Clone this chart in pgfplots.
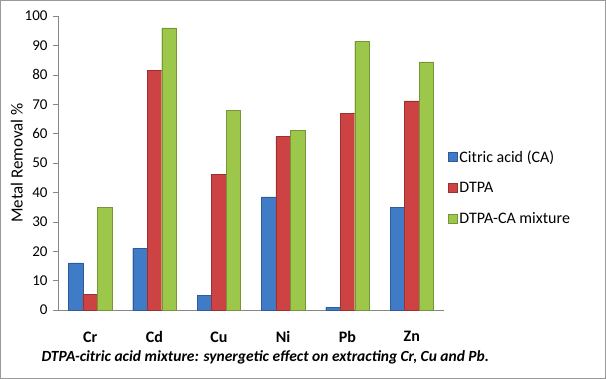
\documentclass[border=0pt]{standalone}
\usepackage{pgfplots}
\pgfplotsset{compat=1.18}
\usepackage{fontspec}
\setmainfont{Carlito}
\definecolor{cablue}{HTML}{3F7BC6}
\definecolor{dtred}{HTML}{CD4242}
\definecolor{mixgreen}{HTML}{9CC74B}
\definecolor{axgray}{HTML}{868686}
\begin{document}
\begin{tikzpicture}[x=1pt,y=1pt]
\useasboundingbox (0pt,0pt) rectangle (606pt,-379pt);
\fill[white] (0pt,0pt) rectangle (606pt,-379pt);
\draw[gray!80] (0.5pt,-0.5pt) rectangle (605.5pt,-378.5pt);
\begin{axis}[
  at={(58pt,-310pt)}, anchor=south west,
  scale only axis, width=386pt, height=294pt,
  ybar=0pt, bar width=14.5pt,
  xmin=-0.5, xmax=5.5, ymin=0, ymax=100,
  xtick=data, xticklabels={Cr,Cd,Cu,Ni,Pb,Zn},
  xticklabel style={font=\fontsize{16}{18}\selectfont\bfseries, yshift=-13pt},
  ytick={0,10,...,100},
  yticklabel style={font=\fontsize{15}{17}\selectfont, xshift=-2pt},
  /pgf/number format/assume math mode=true,
  axis x line*=bottom, axis y line*=left,
  axis line style={axgray, line width=0.8pt},
  x axis line style={-}, y axis line style={-},
  major tick length=5pt,
  xtick style={draw=none},
  ytick style={axgray},
  tick align=outside,
  ylabel={Metal Removal \%},
  ylabel style={font=\fontsize{17}{19}\selectfont, yshift=-5pt},
  legend style={at={(rel axis cs:1.01,0.55)}, anchor=north west, draw=none, fill=none,
    font=\fontsize{16}{18}\selectfont, row sep=14.5pt, inner sep=0pt,
    /tikz/every even column/.append style={column sep=6pt}},
  legend cell align=left,
  legend image code/.code={\draw[#1] (0pt,-4.5pt) rectangle (9pt,4.5pt);},
  clip=false,
]
\addplot[draw=cablue!75!black, fill=cablue] coordinates {(0,16) (1,21) (2,5) (3,38.5) (4,0.9) (5,34.8)};
\addplot[draw=dtred!75!black, fill=dtred] coordinates {(0,5.4) (1,81.4) (2,46.1) (3,59) (4,66.9) (5,71.1)};
\addplot[draw=mixgreen!75!black, fill=mixgreen] coordinates {(0,34.8) (1,96) (2,67.8) (3,61) (4,91.3) (5,84.4)};
\legend{Citric acid (CA),DTPA,DTPA-CA mixture}
\end{axis}
\node[anchor=west, font=\fontsize{15.5}{17}\selectfont\bfseries\itshape] at (38pt,-357pt) {DTPA-citric acid mixture: synergetic effect on extracting Cr, Cu and Pb.};
\end{tikzpicture}
\end{document}
